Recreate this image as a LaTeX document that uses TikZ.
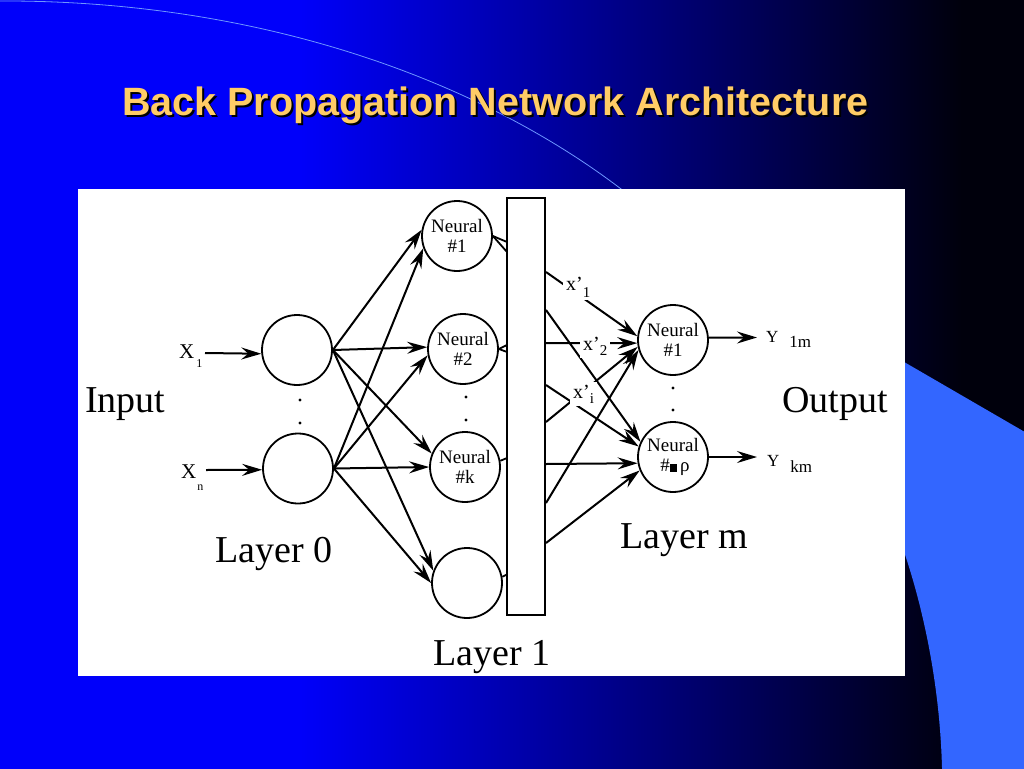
\documentclass[tikz,border=0pt]{standalone}
\usepackage{fontspec}
\setmainfont{Liberation Serif}
\newfontfamily\titlefont{Liberation Sans}
\usetikzlibrary{arrows.meta}
\definecolor{titlecol}{RGB}{255,204,102}
\definecolor{bgblue}{RGB}{0,0,250}
\definecolor{bgdark}{RGB}{0,0,12}
\definecolor{lightblue}{RGB}{51,102,255}
\definecolor{arccol}{RGB}{110,150,255}
\begin{document}
\begin{tikzpicture}[x=1pt,y=-1pt,
  neuron/.style={circle,draw,line width=1.8pt,minimum size=70pt,inner sep=0pt,fill=white,align=center,font=\fontsize{19}{20}\selectfont},
  arr/.style={line width=2pt,-{Stealth[length=20pt,width=12pt,inset=7pt]}},
  stub/.style={line width=1.8pt},
  big/.style={font=\fontsize{38}{40}\selectfont,inner sep=0pt,anchor=base west},
  small/.style={font=\fontsize{21}{21}\selectfont,inner sep=0pt,anchor=base west},
  xlab/.style={font=\fontsize{20}{20}\selectfont,inner sep=3pt,anchor=base west,fill=white},
  ylab/.style={font=\fontsize{17}{17}\selectfont,inner sep=0pt,anchor=base west},
  dot/.style={fill=black}
]
\useasboundingbox (0,0) rectangle (1024,768);
% background
\fill[bgdark] (-5,-5) rectangle (1030,775);
\fill[bgblue] (-5,-5) rectangle (302,775);
\shade[left color=bgblue,right color=bgdark] (300,-5) rectangle (962,775);
\fill[lightblue] (780,290) -- (1030,435) -- (1030,775) -- (942.5,775) -- (942,768) .. controls (940,690) and (925,610) .. (900,540) -- cycle;
\draw[arccol,line width=0.8pt] (0,1) .. controls (260,0) and (480,80) .. (625,192);
% title
\node[anchor=base west,inner sep=0pt,font=\titlefont\bfseries\fontsize{39.5}{42}\selectfont,text=black] (titleshadow) at (124,117.5) {Back Propagation Network Architecture};
\node[anchor=base west,inner sep=0pt,font=\titlefont\bfseries\fontsize{39.5}{42}\selectfont,text=titlecol] (title) at (122,115) {Back Propagation Network Architecture};
% white panel
\fill[white] (78,189) rectangle (905,676);

% layer 0
\node[neuron] (a1) at (297,350) {};
\node[neuron] (an) at (298,468.5) {};
% layer 1
\node[neuron] (h1) at (457,236) {Neural\\\#1};
\node[neuron] (h2) at (463,349) {Neural\\\#2};
\node[neuron] (hk) at (465,467) {Neural\\\#k};
\node[neuron] (hb) at (467,583) {};
% layer m
\node[neuron] (o1) at (673,340) {Neural\\\#1};
\node[neuron] (ok) at (673,457) {Neural\\\hspace*{4pt}\#\rule{7pt}{8pt}\,ρ};

% input arrows
\coordinate (xs1) at (205,353);
\coordinate (xsn) at (206,470);
\draw[arr] (xs1) -- (a1.186);
\draw[arr] (xsn) -- (an.182);
\node[small] (x1) at (179,358) {X\hspace{2pt}\raisebox{-9pt}{\fontsize{12}{12}\selectfont 1}};
\node[small] (xn) at (181,478) {X\hspace{1pt}\raisebox{-12pt}{\fontsize{12}{12}\selectfont n}};

% layer 0 -> layer 1
\draw[arr] (a1.east) -- (h1.170);
\draw[arr] (an.east) -- (h1.200);
\draw[arr] (a1.east) -- (h2.177);
\draw[arr] (an.east) -- (h2.190);
\draw[arr] (a1.east) -- (hk.158);
\draw[arr] (an.east) -- (hk.180);
\draw[arr] (a1.east) -- (hb.160);
\draw[arr] (an.east) -- (hb.180);

% stubs from layer 1 to the bar
\coordinate (s1a) at (507,242);
\coordinate (s1b) at (507,252);
\coordinate (s2a) at (507,345);
\coordinate (s2b) at (507,352);
\coordinate (ska) at (507,458);
\coordinate (sba) at (508,574);
\draw[stub] (h1.east) -- (s1a);
\draw[stub] (h1.east) -- (s1b);
\draw[stub] (h2.east) -- (s2a);
\draw[stub] (h2.east) -- (s2b);
\draw[stub] (hk.10) -- (ska);
\draw[stub] (hb.10) -- (sba);

% bar
\node[draw,line width=1.8pt,fill=white,minimum width=38pt,minimum height=417pt,inner sep=0pt] (bar) at (526,406.5) {};

% bar -> layer m
\coordinate (r1) at (546,272);
\coordinate (r2) at (546,310);
\coordinate (r3) at (546,343);
\coordinate (r4) at (546,385);
\coordinate (r5) at (546,422);
\coordinate (r6) at (546,464);
\coordinate (r7) at (546,503);
\coordinate (r8) at (546,543);
\draw[arr] (r1) -- (o1.174);
\draw[arr] (r2) -- (ok.155);
\draw[arr] (r3) -- (o1.185);
\draw[arr] (r4) -- (ok.163);
\draw[arr] (r5) -- (o1.191);
\draw[arr] (r6) -- (ok.190);
\draw[arr] (r7) -- (o1.196);
\draw[arr] (r8) -- (ok.202);
\node[xlab] (xp1) at (563,290) {x’\raisebox{-7pt}{\fontsize{15}{15}\selectfont 1}};
\node[xlab] (xp2) at (580,350) {x’\raisebox{-5pt}{\fontsize{15}{15}\selectfont 2}};
\node[xlab] (xpi) at (570,398) {x’\raisebox{-5pt}{\fontsize{15}{15}\selectfont i}};

% outputs
\coordinate (y1c) at (757,337.5);
\coordinate (ykc) at (757,457);
\draw[arr] (o1.4) -- (y1c);
\draw[arr] (ok.east) -- (ykc);
\node[ylab] (y1) at (766,342) {Y\hspace{11pt}\raisebox{-5pt}{1m}};
\node[ylab] (yk) at (767,466) {Y\hspace{11pt}\raisebox{-6pt}{km}};

% dots
\fill[dot] (300,400) circle (1.6);
\fill[dot] (300,423) circle (1.6);
\fill[dot] (466,397) circle (1.6);
\fill[dot] (466,420) circle (1.6);
\fill[dot] (673,388) circle (1.6);
\fill[dot] (673,410) circle (1.6);

% big labels
\node[big] (input) at (85,412) {Input};
\node[big] (output) at (782,412) {Output};
\node[big] (lay0) at (215,562) {Layer 0};
\node[big] (lay1) at (433,665) {Layer 1};
\node[big] (laym) at (620,548) {Layer m};
\end{tikzpicture}
\end{document}
